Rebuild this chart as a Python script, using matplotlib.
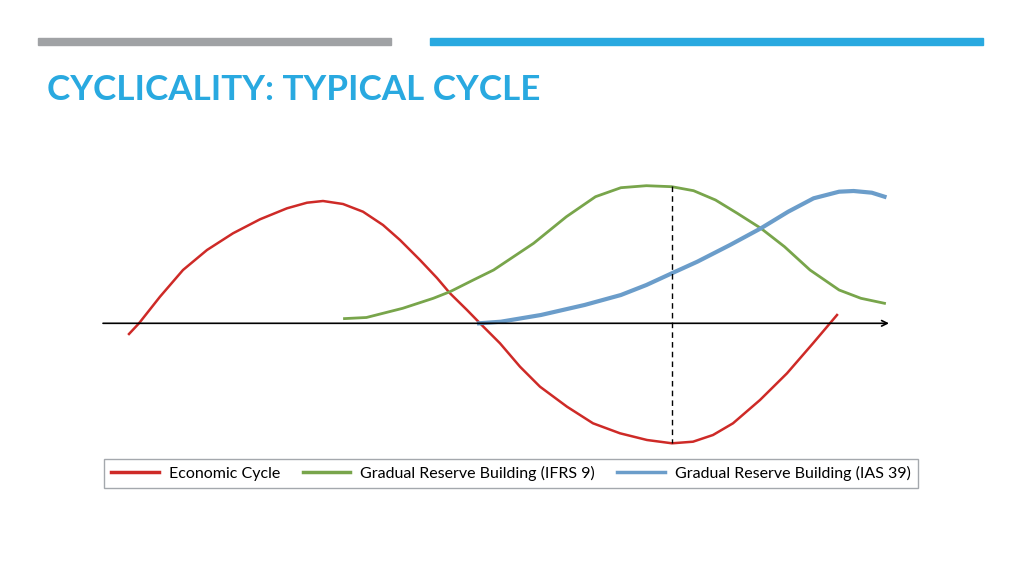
import matplotlib
matplotlib.use('Agg')
import matplotlib.pyplot as plt
from matplotlib.lines import Line2D

# schematic units: t along the arrow, level above / below the axis
econ_t = [2.6, 3.6, 5.7, 8.0, 10.4, 13.0, 15.7, 18.4, 20.4, 22.0, 24.0, 26.0,
          28.0, 29.7, 31.7, 33.4, 34.7, 36.4, 37.7, 39.7, 41.7, 43.7, 46.4,
          49.0, 51.7, 54.4, 56.9, 59.0, 61.0, 63.0, 65.7, 68.4, 71.0, 73.4]
econ_lvl = [-1.07, 0.0, 2.66, 5.33, 7.33, 9.0, 10.4, 11.5, 12.06, 12.23, 11.93,
            11.16, 9.83, 8.33, 6.33, 4.53, 3.0, 1.33, 0.0, -2.0, -4.34, -6.34,
            -8.34, -10.0, -11.0, -11.67, -12.0, -11.84, -11.17, -10.0, -7.67,
            -5.0, -2.0, 0.83]

ifrs_t = [24.15, 26.34, 29.97, 33.03, 34.7, 37.03, 39.06, 43.06, 46.34, 49.25,
          51.79, 54.34, 56.88, 59.06, 61.25, 63.43, 65.79, 68.15, 70.7, 73.61,
          75.79, 78.15]
ifrs_lvl = [0.47, 0.58, 1.5, 2.5, 3.16, 4.33, 5.33, 8.0, 10.66, 12.66, 13.56,
            13.76, 13.66, 13.26, 12.33, 11.0, 9.5, 7.66, 5.33, 3.33, 2.5, 2.0]

ias_t = [37.61, 39.79, 43.79, 48.15, 51.79, 54.34, 56.88, 59.43, 62.7, 65.79,
         68.52, 71.06, 73.61, 75.06, 76.88, 78.15]
ias_lvl = [0.0, 0.16, 0.83, 1.83, 2.83, 3.83, 5.0, 6.16, 7.83, 9.5, 11.16,
           12.5, 13.16, 13.23, 13.06, 12.66]

labels = ['Economic Cycle', 'Gradual Reserve Building (IFRS 9)',
          'Gradual Reserve Building (IAS 39)']
title = 'CYCLICALITY: TYPICAL CYCLE'

red = '#CE2A27'
green = '#78A54B'
blue = '#6B9DCA'
title_blue = '#29A9E0'

W, H = 1024, 576
fig = plt.figure(figsize=(10.24, 5.76), dpi=100)

# slide decoration: two bars on top
fig.patches.append(plt.Rectangle((38 / W, 1 - 45 / H), 353 / W, 7 / H,
                                 transform=fig.transFigure, color='#A0A2A5'))
fig.patches.append(plt.Rectangle((430 / W, 1 - 45 / H), 553 / W, 7 / H,
                                 transform=fig.transFigure, color=title_blue))
fig.text(47 / W, 1 - 90 / H, title, color=title_blue, fontsize=25.2,
         fontweight='bold', family='Lato', va='center', ha='left')

ax = fig.add_axes([103 / W, (576 - 323.3 - 130) / H, 800 / W, 280 / H])
ax.set_xlim(0, 80)
ax.set_ylim(-13, 15)
ax.axis('off')

ax.plot(econ_t, econ_lvl, color=red, lw=1.8, solid_joinstyle='round')
ax.plot(ifrs_t, ifrs_lvl, color=green, lw=2.0, solid_joinstyle='round')
ax.plot(ias_t, ias_lvl, color=blue, lw=3.0, solid_joinstyle='round')

# time axis with arrow
ax.annotate('', xy=(78.6, 0), xytext=(0, 0),
            arrowprops=dict(arrowstyle='->', color='black', lw=1.2,
                            shrinkA=0, shrinkB=0))
# peak of reserve building vs trough of cycle
trough = econ_lvl.index(min(econ_lvl))
ax.plot([econ_t[trough], econ_t[trough]], [max(ifrs_lvl), min(econ_lvl)],
        color='black', lw=1.0, ls=(0, (4, 3)))

handles = [Line2D([], [], color=c, lw=2.5) for c in (red, green, blue)]
leg = fig.legend(handles, labels, loc='center', ncol=3,
                 bbox_to_anchor=(511 / W, 1 - 473.5 / H),
                 prop={'family': 'Lato', 'size': 11.5},
                 handlelength=3.0, handletextpad=0.6, columnspacing=1.4,
                 frameon=True, fancybox=False, borderpad=0.45)
leg.get_frame().set_edgecolor('#8E9399')
leg.get_frame().set_linewidth(1.0)

fig.savefig('out.png', dpi=100)
